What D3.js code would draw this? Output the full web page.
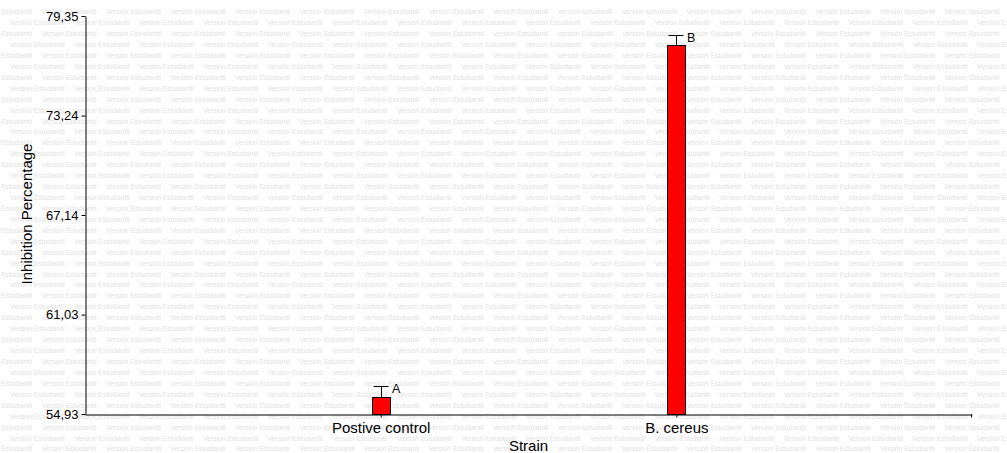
<!DOCTYPE html>
<html>
<head>
<meta charset="utf-8">
<script src="https://cdn.jsdelivr.net/npm/d3@7"></script>
<style>
  html, body { margin: 0; padding: 0; background: #ffffff; }
  svg { display: block; }
  text { font-family: "Liberation Sans", Arial, sans-serif; }
</style>
</head>
<body>
<svg id="chart" width="1007" height="453"></svg>
<script>
// ---- data ----
const categories = ["Postive control", "B. cereus"];
const means = [55.99, 77.60];
const errors = [0.66, 0.61];
const letters = ["A", "B"];
const yTicks = [54.93, 61.03, 67.14, 73.24, 79.35];
const yTickLabels = ["54,93", "61,03", "67,14", "73,24", "79,35"];
const xTitle = "Strain";
const yTitle = "Inhibition Percentage";
const watermark = "Versión Estudiantil";

// ---- layout ----
const W = 1007, H = 453;
const mLeft = 85, mRight = 972, mTop = 16, mBottom = 414;
const svg = d3.select("#chart");

svg.append("rect").attr("width", W).attr("height", H).attr("fill", "#ffffff");

// watermark
const wm = svg.append("g").attr("fill", "#e2e2e2").attr("font-size", "6.7px");
const rowStep = 10.93, colStep = 64.5;
for (let k = 1; 0.8 + k * rowStep < H - 3; k++) {
  const yy = 0.8 + k * rowStep;
  const start = (k % 2 === 1) ? -23 : 9.7;
  for (let x0 = start; x0 < W; x0 += colStep) {
    wm.append("text").attr("x", x0).attr("y", yy)
      .attr("dominant-baseline", "central").text(watermark);
  }
}

// scales
const y = d3.scaleLinear().domain([yTicks[0], yTicks[yTicks.length - 1]]).range([mBottom, mTop]);
const x = d3.scalePoint().domain(categories).range([mLeft, mRight]).padding(1);

// bars
const barW = 18;
const g = svg.append("g");
g.selectAll("rect.bar").data(categories).enter().append("rect")
  .attr("class", "bar")
  .attr("x", d => Math.round(x(d) - barW / 2) + 0.5)
  .attr("y", (d, i) => Math.round(y(means[i])) + 0.5)
  .attr("width", barW)
  .attr("height", (d, i) => Math.round(mBottom) - Math.round(y(means[i])))
  .attr("fill", "#ff0000")
  .attr("stroke", "#000")
  .attr("stroke-width", 1);

// error bars
categories.forEach((c, i) => {
  const cx = Math.round(x(c)) + 0.5;
  const yTop = Math.round(y(means[i] + errors[i])) + 0.5;
  const yBar = Math.round(y(means[i])) + 0.5;
  g.append("line").attr("x1", cx).attr("x2", cx).attr("y1", yBar).attr("y2", yTop)
    .attr("stroke", "#000").attr("stroke-width", 1);
  g.append("line").attr("x1", cx - 8).attr("x2", cx + 7).attr("y1", yTop).attr("y2", yTop)
    .attr("stroke", "#000").attr("stroke-width", 1);
  g.append("text").attr("x", cx + 10.5).attr("y", yTop + 6.3)
    .attr("font-size", "12.5px").attr("fill", "#000").text(letters[i]);
});

// y axis
const yAxis = d3.axisLeft(y).tickValues(yTicks)
  .tickFormat((d, i) => yTickLabels[i]).tickSize(4).tickSizeOuter(0).tickPadding(3);
const gy = svg.append("g").attr("transform", `translate(${mLeft + 0.5},0)`).call(yAxis);
gy.selectAll("text").attr("font-size", "13px").attr("fill", "#000")
  .attr("font-family", '"Liberation Sans", Arial, sans-serif');
gy.selectAll("line, path").attr("stroke", "#000");

// x axis
const xAxis = d3.axisBottom(x).tickSize(3).tickSizeOuter(0).tickPadding(5.3);
const gx = svg.append("g").attr("transform", `translate(0,${mBottom + 0.5})`).call(xAxis);
gx.selectAll("text").attr("font-size", "15px").attr("fill", "#000")
  .attr("font-family", '"Liberation Sans", Arial, sans-serif');
gx.selectAll("line, path").attr("stroke", "#000");
gx.append("line").attr("x1", mRight - 0.5).attr("x2", mRight - 0.5).attr("y1", 0).attr("y2", 3)
  .attr("stroke", "#000");

// titles
svg.append("text").attr("x", (mLeft + mRight) / 2).attr("y", 450.7)
  .attr("text-anchor", "middle").attr("font-size", "15px").attr("fill", "#000").text(xTitle);
svg.append("text").attr("transform", `translate(32,214) rotate(-90)`)
  .attr("text-anchor", "middle").attr("font-size", "15px").attr("fill", "#000").text(yTitle);
</script>
</body>
</html>
